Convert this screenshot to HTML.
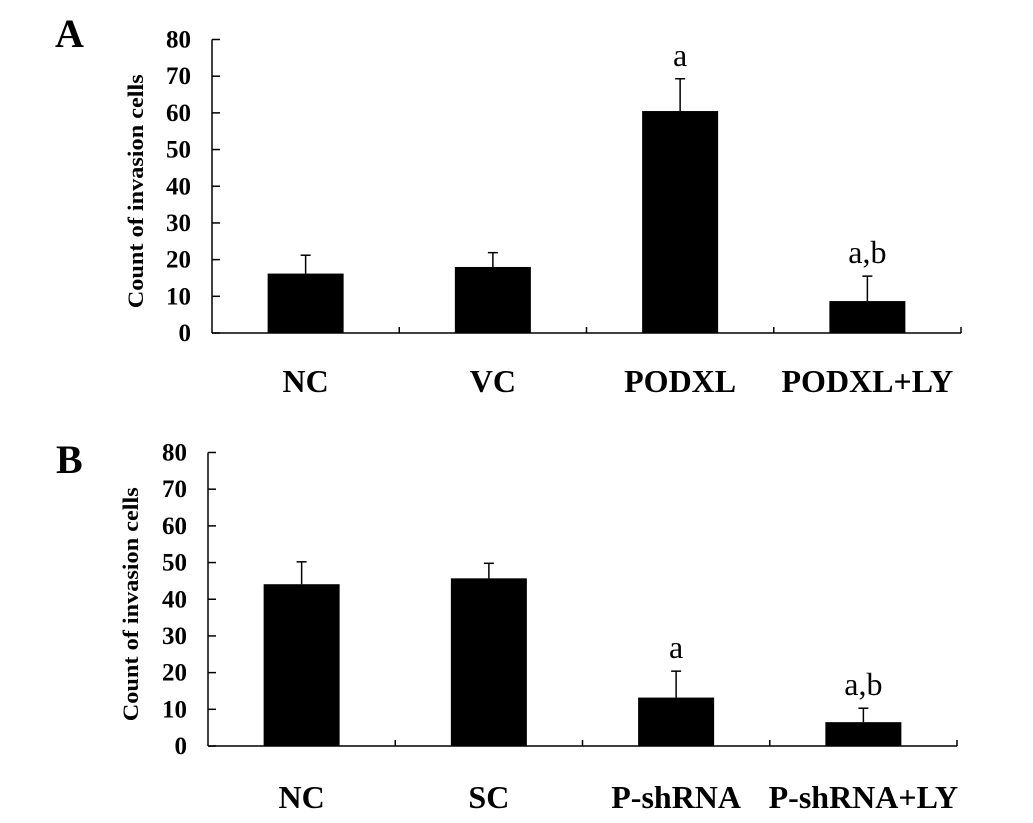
<!DOCTYPE html>
<html><head><meta charset="utf-8"><style>
html,body{margin:0;padding:0;background:#fff;}
svg{display:block;font-family:"Liberation Serif",serif;}
</style></head><body>
<svg id="chart" width="1033" height="823" viewBox="0 0 1033 823"></svg>
<script>
const categoriesA = ["NC","VC","PODXL","PODXL+LY"];
const valuesA = [16.2, 18.0, 60.5, 8.7];
const errorsA = [21.2, 21.9, 69.3, 15.5];
const annotA = ["", "", "a", "a,b"];
const categoriesB = ["NC","SC","P-shRNA","P-shRNA+LY"];
const valuesB = [44.1, 45.7, 13.2, 6.5];
const errorsB = [50.2, 49.8, 20.4, 10.3];
const annotB = ["", "", "a", "a,b"];
const yTicks = [0,10,20,30,40,50,60,70,80];

const svg = document.getElementById('chart');
const NS = 'http://www.w3.org/2000/svg';
function mk(tag, attrs, parent){
  const e = document.createElementNS(NS, tag);
  for (const k in attrs) e.setAttribute(k, attrs[k]);
  (parent||svg).appendChild(e);
  return e;
}
function panel(p){
  const g = mk('g', {});
  
  
  const y = v => p.y0 - (v/80)*(p.y0 - p.y80);
  const catW = (p.xEnd - p.x0)/p.cats.length;
  const xc = i => p.x0 + catW*(i+0.5);
  const L = mk('text', {x:p.letterX, y:p.letterY, 'font-size':40, 'font-weight':'bold'}, g);
  L.textContent = p.letter;
  
  
  const ax = mk('line', {x1:p.x0, y1:y(80), x2:p.x0, y2:y(0), stroke:'#000','stroke-width':1.5}, g);
  
  
  const xa = mk('line', {x1:p.x0, y1:y(0), x2:p.xEnd, y2:y(0), stroke:'#000','stroke-width':1.5}, g);
  
  
  yTicks.forEach(t=>{
    const tk = mk('line', {x1:p.x0, y1:y(t), x2:p.x0+8, y2:y(t), stroke:'#000','stroke-width':1.5}, g);
    
    
    const tl = mk('text', {x:p.x0-21, y:y(t)+8, 'font-size':25, 'font-weight':'bold', 'text-anchor':'end'}, g);
    tl.textContent = t;
    
    
  });
  for (let i=1;i<=p.cats.length;i++){
    const xt = p.x0 + catW*i;
    const tk = mk('line', {x1:xt, y1:y(0), x2:xt, y2:y(0)-6, stroke:'#000','stroke-width':1.5}, g);
    
    
  }
  const tt = mk('text', {x:0, y:0, 'font-size':22, 'font-weight':'bold', 'text-anchor':'middle',
    transform:`translate(${p.titleX},${(y(0)+y(80))/2+5}) rotate(-90)`, textLength:234, lengthAdjust:'spacingAndGlyphs'}, g);
  tt.textContent = 'Count of invasion cells';
  
  
  const bw = 76;
  p.cats.forEach((c,i)=>{
    const cx = xc(i);
    const el = mk('line', {x1:cx, y1:y(p.vals[i]), x2:cx, y2:y(p.errs[i]), stroke:'#000','stroke-width':1.5}, g);
    
    
    const cap = mk('line', {x1:cx-5, y1:y(p.errs[i]), x2:cx+5, y2:y(p.errs[i]), stroke:'#000','stroke-width':1.5}, g);
    
    
    const r = mk('rect', {x:cx-bw/2, y:y(p.vals[i]), width:bw, height:y(0)-y(p.vals[i]), fill:'#000'}, g);
    
    
    const lb = mk('text', {x:cx, y:p.labelY, 'font-size':32, 'font-weight':'bold', 'text-anchor':'middle'}, g);
    lb.textContent = c;
    
    
    if (p.ann[i]){
      const an = mk('text', {x:cx, y:y(p.errs[i])-13, 'font-size':32, 'text-anchor':'middle'}, g);
      an.textContent = p.ann[i];
      
      
    }
  });
}
panel({name:'panel-a', letter:'A', letterX:55, letterY:47, x0:212, xEnd:961, y0:333, y80:39.5,
  cats:categoriesA, vals:valuesA, errs:errorsA, ann:annotA, labelY:392, titleX:143});
panel({name:'panel-b', letter:'B', letterX:56, letterY:473, x0:208, xEnd:957, y0:746, y80:452.5,
  cats:categoriesB, vals:valuesB, errs:errorsB, ann:annotB, labelY:808, titleX:138});
</script>
</body></html>
